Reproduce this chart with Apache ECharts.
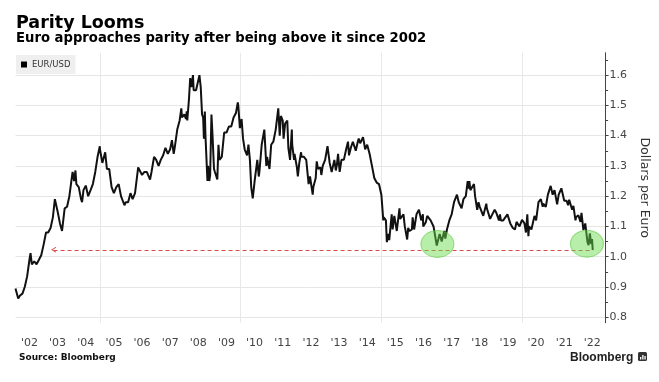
<!DOCTYPE html>
<html>
<head>
<meta charset="utf-8">
<script src="https://cdn.jsdelivr.net/npm/echarts@6/dist/echarts.min.js"></script>
<style>
html,body{margin:0;padding:0;background:#fff;}
#chart{width:659px;height:382px;}
</style>
</head>
<body>
<div id="chart"></div>
<script>
// ---- data ----
const seriesName = 'EUR/USD';
const eurusd = [
['2002-01-01',0.895],['2002-02-05',0.862],['2002-03-01',0.872],['2002-04-01',0.878],['2002-05-01',0.900],['2002-06-01',0.935],['2002-07-01',0.99],['2002-07-15',1.012],['2002-08-01',0.975],['2002-09-01',0.985],['2002-10-01',0.975],['2002-11-01',0.99],['2002-12-01',1.005],
['2003-01-01',1.04],['2003-02-01',1.08],['2003-03-01',1.08],['2003-04-01',1.095],['2003-05-01',1.13],['2003-05-27',1.19],['2003-07-01',1.15],['2003-08-01',1.11],['2003-08-28',1.085],['2003-10-01',1.16],['2003-11-01',1.165],['2003-12-01',1.20],
['2004-01-01',1.26],['2004-01-12',1.28],['2004-02-01',1.25],['2004-02-18',1.285],['2004-03-01',1.24],['2004-04-01',1.23],['2004-05-01',1.19],['2004-05-14',1.18],['2004-06-01',1.22],['2004-07-01',1.235],['2004-08-01',1.20],['2004-09-01',1.22],['2004-10-01',1.24],['2004-11-01',1.28],['2004-12-01',1.33],['2004-12-30',1.365],
['2005-01-01',1.355],['2005-02-01',1.31],['2005-03-10',1.345],['2005-04-01',1.29],['2005-05-01',1.29],['2005-06-01',1.23],['2005-07-01',1.21],['2005-08-01',1.23],['2005-09-01',1.24],['2005-10-01',1.20],['2005-11-15',1.17],['2005-12-01',1.18],
['2006-01-01',1.18],['2006-02-01',1.21],['2006-03-01',1.19],['2006-04-01',1.21],['2006-05-12',1.295],['2006-06-01',1.29],['2006-07-01',1.27],['2006-08-01',1.28],['2006-09-01',1.28],['2006-10-13',1.255],['2006-11-01',1.28],['2006-12-04',1.33],
['2007-01-01',1.32],['2007-02-01',1.30],['2007-03-01',1.32],['2007-04-01',1.335],['2007-05-01',1.36],['2007-06-01',1.34],['2007-07-01',1.355],['2007-07-24',1.385],['2007-08-16',1.34],['2007-09-01',1.365],['2007-10-01',1.42],['2007-11-01',1.45],['2007-11-23',1.49],['2007-12-01',1.46],
['2008-01-01',1.47],['2008-01-22',1.455],['2008-02-01',1.48],['2008-02-08',1.45],['2008-03-01',1.52],['2008-03-17',1.59],['2008-04-01',1.56],['2008-04-22',1.60],['2008-05-01',1.55],['2008-06-01',1.55],['2008-07-15',1.60],['2008-08-01',1.56],['2008-08-18',1.47],['2008-09-01',1.46],['2008-09-11',1.39],['2008-09-23',1.48],['2008-10-01',1.40],['2008-10-27',1.25],['2008-11-04',1.30],['2008-11-20',1.25],['2008-12-01',1.27],['2008-12-18',1.47],
['2009-01-01',1.40],['2009-01-20',1.29],['2009-02-01',1.28],['2009-03-04',1.255],['2009-03-19',1.37],['2009-04-01',1.32],['2009-05-01',1.33],['2009-06-01',1.41],['2009-07-01',1.41],['2009-08-01',1.43],['2009-09-01',1.43],['2009-10-01',1.46],['2009-11-01',1.475],['2009-11-25',1.51],['2009-12-01',1.50],['2009-12-22',1.425],
['2010-01-01',1.43],['2010-01-13',1.455],['2010-02-01',1.39],['2010-02-22',1.355],['2010-03-01',1.36],['2010-03-25',1.335],['2010-04-12',1.37],['2010-05-01',1.32],['2010-05-18',1.23],['2010-06-07',1.193],['2010-07-01',1.25],['2010-08-05',1.32],['2010-08-24',1.265],['2010-09-01',1.28],['2010-10-01',1.37],['2010-11-04',1.42],['2010-11-30',1.30],['2010-12-10',1.33],
['2011-01-01',1.335],['2011-01-10',1.29],['2011-02-01',1.37],['2011-03-01',1.38],['2011-04-01',1.42],['2011-05-04',1.49],['2011-05-23',1.40],['2011-06-07',1.465],['2011-07-01',1.45],['2011-07-12',1.39],['2011-08-01',1.44],['2011-08-29',1.45],['2011-09-01',1.43],['2011-09-12',1.36],['2011-10-04',1.32],['2011-10-27',1.42],['2011-11-01',1.37],['2011-11-25',1.32],['2011-12-01',1.34],
['2012-01-01',1.295],['2012-01-13',1.265],['2012-02-01',1.31],['2012-02-24',1.345],['2012-03-01',1.33],['2012-04-01',1.33],['2012-05-01',1.32],['2012-06-01',1.24],['2012-06-19',1.265],['2012-07-24',1.205],['2012-08-01',1.23],['2012-09-01',1.26],['2012-09-14',1.315],['2012-10-01',1.29],['2012-11-01',1.295],['2012-11-13',1.27],['2012-12-01',1.30],
['2013-01-01',1.32],['2013-02-01',1.365],['2013-03-01',1.31],['2013-03-27',1.28],['2013-04-01',1.285],['2013-05-01',1.32],['2013-05-20',1.285],['2013-06-01',1.30],['2013-06-18',1.34],['2013-07-09',1.28],['2013-08-01',1.32],['2013-09-01',1.32],['2013-10-01',1.355],['2013-10-25',1.38],['2013-11-07',1.335],['2013-12-01',1.36],['2013-12-27',1.38],
['2014-01-01',1.375],['2014-02-03',1.35],['2014-03-01',1.38],['2014-03-13',1.39],['2014-04-01',1.375],['2014-05-08',1.395],['2014-06-05',1.355],['2014-07-01',1.37],['2014-08-01',1.34],['2014-09-01',1.30],['2014-10-01',1.26],['2014-11-01',1.245],['2014-12-01',1.24],
['2015-01-01',1.205],['2015-01-26',1.12],['2015-02-01',1.13],['2015-03-01',1.12],['2015-03-13',1.048],['2015-04-01',1.075],['2015-04-13',1.055],['2015-05-15',1.14],['2015-05-27',1.09],['2015-06-18',1.135],['2015-07-20',1.085],['2015-08-24',1.16],['2015-09-01',1.125],['2015-10-15',1.14],['2015-11-01',1.10],['2015-12-02',1.057],['2015-12-15',1.095],
['2016-01-01',1.085],['2016-02-01',1.09],['2016-02-11',1.13],['2016-03-01',1.09],['2016-04-01',1.14],['2016-05-03',1.155],['2016-06-01',1.12],['2016-06-23',1.14],['2016-06-27',1.10],['2016-08-01',1.115],['2016-08-18',1.135],['2016-10-01',1.12],['2016-11-08',1.10],['2016-12-01',1.065],['2016-12-20',1.037],
['2017-01-03',1.04],['2017-01-26',1.075],['2017-02-22',1.05],['2017-03-27',1.085],['2017-04-10',1.06],['2017-05-01',1.09],['2017-06-01',1.12],['2017-07-01',1.14],['2017-08-01',1.18],['2017-09-08',1.205],['2017-10-01',1.18],['2017-11-07',1.16],['2017-12-01',1.19],
['2018-01-01',1.20],['2018-01-25',1.25],['2018-02-08',1.225],['2018-02-16',1.25],['2018-03-01',1.22],['2018-04-17',1.24],['2018-05-01',1.20],['2018-05-29',1.155],['2018-06-14',1.18],['2018-07-01',1.165],['2018-08-15',1.135],['2018-09-24',1.175],['2018-10-01',1.16],['2018-11-12',1.125],['2018-12-01',1.135],
['2019-01-10',1.155],['2019-02-01',1.145],['2019-03-07',1.12],['2019-03-20',1.14],['2019-04-01',1.12],['2019-05-01',1.12],['2019-06-25',1.14],['2019-08-01',1.11],['2019-09-03',1.095],['2019-10-01',1.09],['2019-10-21',1.115],['2019-11-29',1.10],['2019-12-31',1.122],
['2020-02-01',1.11],['2020-02-20',1.08],['2020-03-09',1.14],['2020-03-23',1.068],['2020-04-01',1.10],['2020-05-01',1.09],['2020-06-10',1.135],['2020-07-01',1.12],['2020-08-01',1.18],['2020-09-01',1.19],['2020-09-25',1.165],['2020-10-01',1.175],['2020-11-04',1.165],['2020-12-01',1.205],
['2021-01-06',1.234],['2021-02-01',1.205],['2021-02-25',1.22],['2021-03-31',1.173],['2021-04-20',1.205],['2021-05-25',1.226],['2021-06-01',1.22],['2021-07-01',1.185],['2021-08-01',1.185],['2021-08-20',1.17],['2021-09-03',1.188],['2021-10-12',1.155],['2021-10-28',1.168],['2021-11-24',1.12],['2021-12-01',1.13],
['2022-01-01',1.137],['2022-01-28',1.115],['2022-02-10',1.145],['2022-03-07',1.088],['2022-03-31',1.11],['2022-04-28',1.05],['2022-05-13',1.038],['2022-05-30',1.077],['2022-06-15',1.042],['2022-06-27',1.058],['2022-07-06',1.022]
];
const yTickValues = [0.8, 0.9, 1.0, 1.1, 1.2, 1.3, 1.4, 1.5, 1.6];
const yMinorTickValues = [0.85, 0.95, 1.05, 1.15, 1.25, 1.35, 1.45, 1.55, 1.65];
const xLabelYears = [2002,2003,2004,2005,2006,2007,2008,2009,2010,2011,2012,2013,2014,2015,2016,2017,2018,2019,2020,2021,2022];
const xGridYears = [2005, 2010, 2015, 2020];
const xRange = ['2002-01-01', '2022-12-20'];
const parityLevel = 1.023;
const parityDates = ['2003-05-10', '2022-07-06'];
const highlights = [['2016-12-28', 1.042], ['2022-04-22', 1.043]];

// ---- chart ----
const ts = d => Date.parse(d);   // date string -> ms (used as the x value)
const chart = echarts.init(document.getElementById('chart'), null, {renderer: 'canvas'});
const FONT = '"DejaVu Sans", "Noto Sans", sans-serif';
const chevron = 'path://M5,0 L10,10 L8.3,10 L5,3.2 L1.7,10 L0,10 Z';

const option = {
  animation: false,
  backgroundColor: '#ffffff',
  grid: {left: 15.5, right: 48, top: 52.7, bottom: 59.3, containLabel: false},
  legend: {
    data: [{name: seriesName, icon: 'rect'}],
    left: 16, top: 55,
    backgroundColor: '#efefef',
    padding: [5, 5, 5, 5],
    itemWidth: 6, itemHeight: 6,
    textStyle: {fontFamily: FONT, fontSize: 8.5, color: '#333'},
    selectedMode: false
  },
  xAxis: {
    type: 'value',
    min: ts(xRange[0]), max: ts(xRange[1]),
    axisLine: {show: false},
    axisTick: {show: false, customValues: xGridYears.map(y => ts(y + '-01-01'))},
    splitLine: {show: true, lineStyle: {color: '#e8e8e8', width: 1}},
    axisLabel: {
      customValues: xLabelYears.map(y => ts(y + '-07-01')),
      formatter: function (v) { return "'" + String(new Date(v).getUTCFullYear()).slice(2); },
      fontFamily: FONT, fontSize: 11, color: '#444', margin: 15
    }
  },
  yAxis: [{
    type: 'value', position: 'right',
    min: 0.782, max: 1.674,
    axisLine: {show: true, lineStyle: {color: '#444', width: 1}},
    axisTick: {show: true, length: 3, customValues: yTickValues, lineStyle: {color: '#444'}},
    axisLabel: {customValues: yTickValues, formatter: v => v.toFixed(1), fontFamily: FONT, fontSize: 11, color: '#444', margin: 4},
    splitLine: {show: true, lineStyle: {color: '#e6e6e6', width: 1}},
    name: 'Dollars per Euro', nameLocation: 'middle', nameRotate: -90, nameGap: 24,
    nameTextStyle: {fontFamily: FONT, fontSize: 12.5, color: '#333'}
  }, {
    type: 'value', position: 'right',
    min: 0.782, max: 1.674,
    axisLine: {show: false},
    axisTick: {show: true, length: 2.5, customValues: yMinorTickValues, lineStyle: {color: '#444'}},
    axisLabel: {show: false},
    splitLine: {show: false}
  }],
  series: [{
    name: seriesName, type: 'line', data: eurusd.map(p => [ts(p[0]), p[1]]), yAxisIndex: 0,
    showSymbol: false, symbol: 'none',
    lineStyle: {color: '#111', width: 2},
    itemStyle: {color: '#000'},
    z: 3,
    markLine: {
      silent: true, animation: false,
      symbol: [chevron, 'none'], symbolSize: [6, 5],
      lineStyle: {color: '#d94a4a', type: [4, 3], width: 1},
      label: {show: false},
      emphasis: {disabled: true},
      data: [[{coord: [ts(parityDates[0]), parityLevel]}, {coord: [ts(parityDates[1]), parityLevel]}]]
    }
  }, {
    name: 'highlight', type: 'scatter', data: highlights.map(p => [ts(p[0]), p[1]]), yAxisIndex: 0,
    symbol: 'circle', symbolSize: [33, 27],
    itemStyle: {color: 'rgba(105, 220, 75, 0.6)', borderColor: 'rgba(90, 200, 60, 0.7)', borderWidth: 1},
    silent: true, z: 5
  }],
  graphic: [
    {type: 'text', x: 16, y: 23, style: {text: 'Parity Looms', font: 'bold 17.5px ' + FONT, fill: '#000', verticalAlign: 'middle'}},
    {type: 'text', x: 16, y: 38.5, style: {text: 'Euro approaches parity after being above it since 2002', font: 'bold 13.2px ' + FONT, fill: '#000', verticalAlign: 'middle'}},
    {type: 'text', x: 19, y: 358, style: {text: 'Source: Bloomberg', font: 'bold 9px ' + FONT, fill: '#111', verticalAlign: 'middle'}},
    {type: 'text', x: 570, y: 357.5, style: {text: 'Bloomberg', font: 'bold 12px "Liberation Sans", Arial, sans-serif', fill: '#222', verticalAlign: 'middle'}},
    {type: 'rect', shape: {x: 638, y: 352, width: 9, height: 9, r: 1.5}, style: {fill: '#333'}},
    {type: 'rect', shape: {x: 640, y: 357, width: 1.3, height: 2.5}, style: {fill: '#fff'}},
    {type: 'rect', shape: {x: 642.2, y: 355, width: 1.3, height: 4.5}, style: {fill: '#fff'}},
    {type: 'rect', shape: {x: 644.4, y: 356, width: 1.3, height: 3.5}, style: {fill: '#fff'}}
  ]
};
chart.setOption(option);
</script>
</body>
</html>
